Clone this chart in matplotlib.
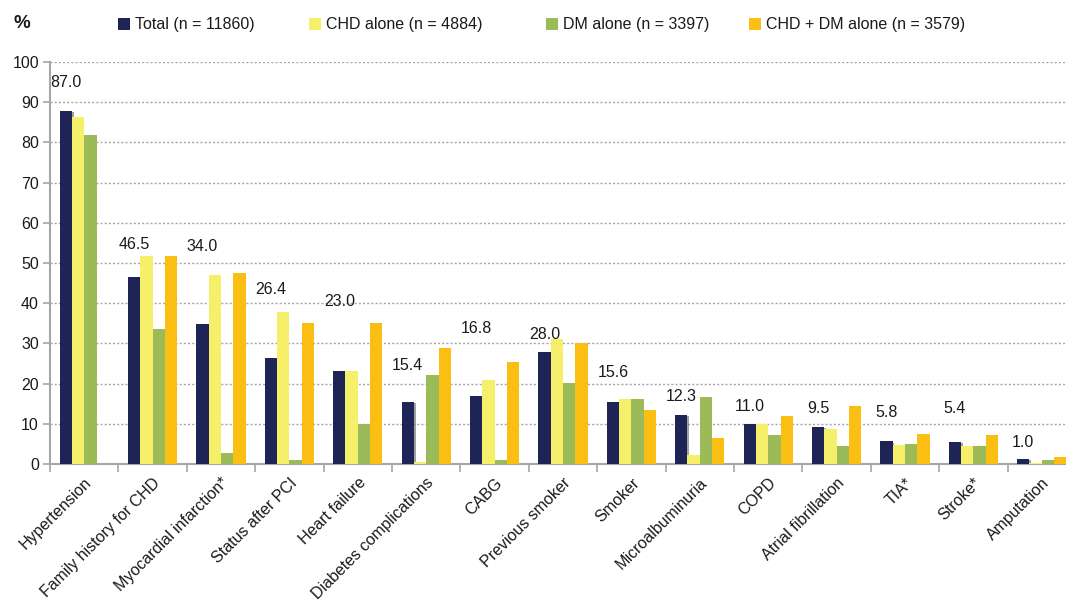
import numpy as np
import matplotlib
matplotlib.use("Agg")
import matplotlib.pyplot as plt
from matplotlib.patches import Rectangle
import matplotlib.patheffects as pe

plt.rcParams['font.family'] = ['Liberation Sans', 'DejaVu Sans']

categories = ["Hypertension", "Family history for CHD", "Myocardial infarction*",
              "Status after PCI", "Heart failure", "Diabetes complications", "CABG",
              "Previous smoker", "Smoker", "Microalbuminuria", "COPD",
              "Atrial fibrillation", "TIA*", "Stroke*", "Amputation"]

series_names = ["Total (n = 11860)", "CHD alone (n = 4884)", "DM alone (n = 3397)",
                "CHD + DM alone (n = 3579)"]

total = [87.8, 46.5, 34.8, 26.4, 23.1, 15.5, 17.0, 27.9, 15.5, 12.2, 10.0, 9.3, 5.6, 5.5, 1.2]
chd_alone = [86.3, 51.7, 47.0, 37.7, 23.2, 0.5, 20.9, 31.1, 16.2, 2.2, 10.0, 8.7, 4.7, 4.5, 0.3]
dm_alone = [81.8, 33.5, 2.7, 1.0, 10.0, 22.1, 1.0, 20.1, 16.2, 16.7, 7.2, 4.5, 5.0, 4.5, 1.0]
chd_dm = [np.nan, 51.7, 47.5, 35.0, 35.0, 28.9, 25.4, 30.1, 13.4, 6.5, 11.9, 14.4, 7.5, 7.2, 1.7]

value_labels = ["87.0", "46.5", "34.0", "26.4", "23.0", "15.4", "16.8", "28.0",
                "15.6", "12.3", "11.0", "9.5", "5.8", "5.4", "1.0"]
label_y = [94.8, 54.7, 54.0, 43.3, 40.3, 24.4, 33.6, 32.1, 22.7, 16.8, 14.2, 13.9, 12.9, 13.7, 5.3]

colors = ["#1F2456", "#F6EF6A", "#9BBB59", "#FBBF13"]

W, H = 1066, 601
fig = plt.figure(figsize=(W / 100, H / 100), dpi=100)
ax = fig.add_axes([50 / W, (H - 464) / H, 1026 / W, (464 - 62) / H])

x = np.arange(len(categories))
bw = 0.18
shadow = [pe.SimplePatchShadow(offset=(1.2, -0.8), shadow_rgbFace="#555555", alpha=0.55), pe.Normal()]
for k, vals in enumerate([total, chd_alone, dm_alone, chd_dm]):
    bars = ax.bar(x + (k - 1.5) * bw, vals, width=bw, color=colors[k], zorder=3,
                  linewidth=0)
    if k == 0:
        for b in bars:
            b.set_path_effects(shadow)

fs = 11.5
for i, (t, yv) in enumerate(zip(value_labels, label_y)):
    ax.text(x[i] - 1.5 * bw, yv, t, ha="center", va="center", fontsize=fs, color="#1a1a1a", zorder=4)

ax.set_xlim(-0.5, len(categories) - 0.5)
ax.set_ylim(0, 100)
ax.set_yticks(np.arange(0, 101, 10))
ax.yaxis.grid(True, linestyle=(0, (1.5, 1.5)), color="#A6A6A6", linewidth=1.0, zorder=0)
ax.set_axisbelow(True)

for s in ["top", "right"]:
    ax.spines[s].set_visible(False)
for s in ["left", "bottom"]:
    ax.spines[s].set_color("#A6A6A6")
    ax.spines[s].set_linewidth(1.5)

ax.tick_params(axis="y", length=5, width=1.2, color="#A6A6A6", labelsize=fs, pad=3, labelcolor="#1a1a1a")
ax.set_xticks(x)
ax.set_xticklabels(categories, rotation=45, ha="right", rotation_mode="anchor", fontsize=fs,
                   color="#1a1a1a")
ax.tick_params(axis="x", which="major", length=0, pad=8)
ax.set_xticks(np.arange(-0.5, len(categories), 1), minor=True)
ax.tick_params(axis="x", which="minor", length=6, width=1.2, color="#A6A6A6")

fig.text(13 / W, 1 - 23 / H, "%", fontsize=13.5, fontweight="bold", ha="left", va="center", color="#1a1a1a")

leg_x = [118, 309, 546, 749]
for k, lx in enumerate(leg_x):
    fig.patches.append(Rectangle((lx / W, 1 - 30 / H), 12 / W, 12 / H, transform=fig.transFigure,
                                 facecolor=colors[k], edgecolor="none"))
    fig.text((lx + 17) / W, 1 - 24 / H, series_names[k], fontsize=fs, ha="left", va="center",
             color="#1a1a1a")

fig.savefig("out.png", dpi=100)
